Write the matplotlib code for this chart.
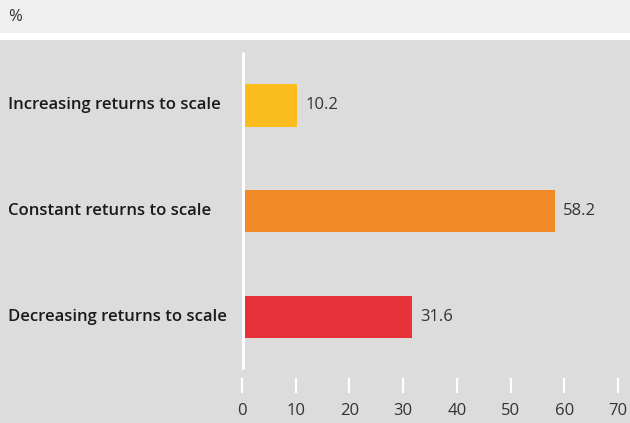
import matplotlib
matplotlib.use("Agg")
import matplotlib.pyplot as plt
from matplotlib.patches import Rectangle
from matplotlib.transforms import blended_transform_factory

categories = ["Increasing returns to scale", "Constant returns to scale", "Decreasing returns to scale"]
values = [10.2, 58.2, 31.6]
colors = ["#fbbc1e", "#f08926", "#e8323a"]
xticks = [0, 10, 20, 30, 40, 50, 60, 70]
unit_label = "%"

W, H = 630, 423
fig = plt.figure(figsize=(W / 100, H / 100), dpi=100)
fig.patch.set_facecolor("#dcdcdc")

# top band
fig.patches.append(Rectangle((0, 1 - 33.5 / H), 1, 33.5 / H, transform=fig.transFigure,
                             facecolor="#efefef", edgecolor="none", zorder=0))
fig.patches.append(Rectangle((0, 1 - 40 / H), 1, 6.5 / H, transform=fig.transFigure,
                             facecolor="white", edgecolor="none", zorder=0))
fig.text(8 / W, 1 - 17 / H, unit_label, ha="left", va="center", fontsize=12,
         family="Open Sans", color="#333333")

ax_left, ax_right = 242 / W, 618 / W
ax_top, ax_bot = 52 / H, 378 / H
ax = fig.add_axes([ax_left, 1 - ax_bot, ax_right - ax_left, ax_bot - ax_top])
ax.set_facecolor("none")
ypos = list(range(len(categories)))
ax.barh(ypos, values, height=0.40, color=colors, zorder=2)
ax.set_xlim(0, 70)
ax.set_ylim(2.573, -0.503)
ax.axvline(0, ymin=(378 - 369) / 326, ymax=1, color="white", lw=3.6, zorder=3,
           solid_capstyle="butt")

for s in ax.spines.values():
    s.set_visible(False)
ax.set_yticks([])
ax.set_xticks(xticks)
ax.set_xticklabels([str(t) for t in xticks], family="Open Sans", fontsize=12, color="#333333")
ax.tick_params(axis="x", direction="out", length=10.8, width=1.6, color="white", pad=7.5)

for y, v in zip(ypos, values):
    ax.text(v + 1.6, y, f"{v:.1f}", ha="left", va="center", fontsize=12,
            family="Open Sans", color="#333333")

tr = blended_transform_factory(fig.transFigure, ax.transData)
for y, c in zip(ypos, categories):
    ax.text(8 / W, y, c, transform=tr, ha="left", va="center", fontsize=12,
            family="Open Sans", fontweight="semibold", color="#1a1a1a")

fig.savefig("out.png", dpi=100, facecolor=fig.get_facecolor())
